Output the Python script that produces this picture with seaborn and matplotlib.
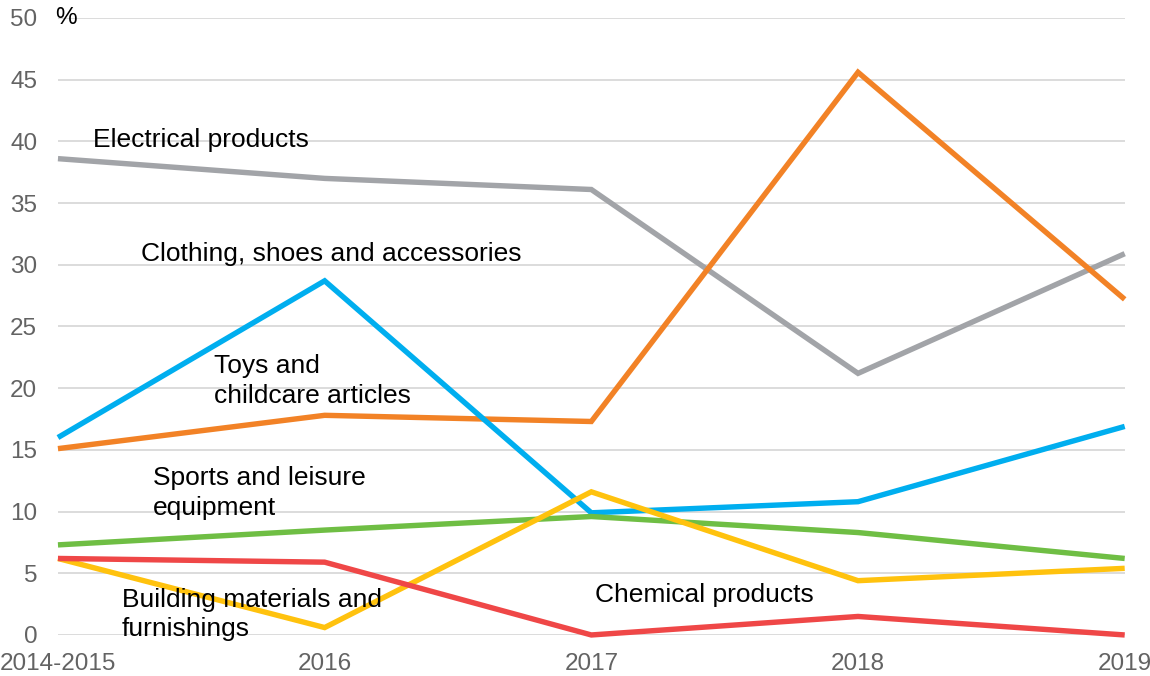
import matplotlib
matplotlib.use("Agg")
import matplotlib.pyplot as plt
import seaborn as sns
import pandas as pd

years = ["2014-2015", "2016", "2017", "2018", "2019"]
electrical = [38.6, 37.0, 36.1, 21.2, 30.9]
toys = [15.1, 17.8, 17.3, 45.6, 27.2]
clothing = [16.0, 28.7, 9.9, 10.8, 16.9]
sports = [7.3, 8.5, 9.6, 8.3, 6.2]
chemical = [6.2, 0.6, 11.6, 4.4, 5.4]
building = [6.2, 5.9, 0.0, 1.5, 0.0]

series = {
    "Electrical products": electrical,
    "Toys and childcare articles": toys,
    "Clothing, shoes and accessories": clothing,
    "Sports and leisure equipment": sports,
    "Chemical products": chemical,
    "Building materials and furnishings": building,
}
palette = {
    "Electrical products": "#A2A4A8",
    "Toys and childcare articles": "#F28226",
    "Clothing, shoes and accessories": "#00AEEF",
    "Sports and leisure equipment": "#6FBE44",
    "Chemical products": "#FFC20E",
    "Building materials and furnishings": "#EF4747",
}

rows = []
for name, vals in series.items():
    for i, v in enumerate(vals):
        rows.append({"pos": i, "value": v, "series": name})
df = pd.DataFrame(rows)

sns.set_theme(style="white")
plt.rcParams["font.family"] = ["Liberation Sans", "DejaVu Sans"]

fig = plt.figure(figsize=(11.5, 6.76), dpi=100)
ax = fig.add_axes([0.0504, 0.0607, 0.9276, 0.9127])

sns.lineplot(data=df, x="pos", y="value", hue="series", palette=palette,
             hue_order=list(series.keys()), linewidth=3.9, sort=False,
             legend=False, ax=ax, zorder=3)
for ln in ax.lines:
    ln.set_clip_on(False)
    ln.set_solid_joinstyle("miter")
    ln.set_solid_capstyle("butt")

ax.set_xlim(0, 4)
ax.set_ylim(0, 50)
ax.set_yticks(range(0, 51, 5))
ax.set_xticks(range(len(years)))
ax.set_xticklabels(years)
ax.yaxis.grid(True, color="#D9D9D9", linewidth=1.3, zorder=0)
ax.xaxis.grid(False)
for s in ax.spines.values():
    s.set_visible(False)
ax.tick_params(axis="both", length=0, labelsize=17.5, labelcolor="#636363")
ax.tick_params(axis="y", pad=15)
ax.tick_params(axis="x", pad=13)
ax.set_xlabel("")
ax.set_ylabel("")

ax.text(-0.01, 50.0, "%", fontsize=17.5, color="black", ha="left", va="center")

labels = [
    (0.131, 40.15, "Electrical products"),
    (0.31, 30.85, "Clothing, shoes and accessories"),
    (0.585, 20.6, "Toys and\nchildcare articles"),
    (0.356, 11.5, "Sports and leisure\nequipment"),
    (0.24, 1.65, "Building materials and\nfurnishings"),
    (2.015, 3.2, "Chemical products"),
]
for x, y, t in labels:
    ax.text(x, y, t, fontsize=19, color="black", ha="left", va="center",
            linespacing=1.3, zorder=4)

fig.savefig("out.png", dpi=100)
